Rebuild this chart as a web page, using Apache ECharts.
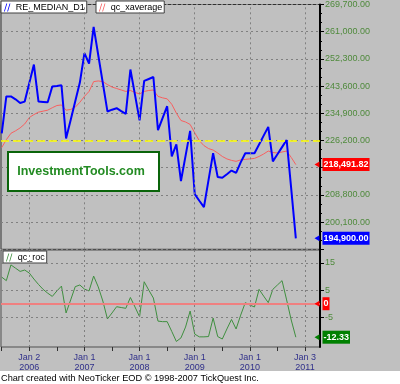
<!DOCTYPE html>
<html><head><meta charset="utf-8">
<script src="https://cdn.jsdelivr.net/npm/echarts@6/dist/echarts.min.js"></script>
<style>html,body{margin:0;padding:0;background:#c0c0c0}#c{width:400px;height:384px}</style>
</head><body><div id="c"></div>
<script>
// months relative to Jan 2006 (0 = Jan 2006); first point = Jul 2005
const startMonth = -6;
const reMedian = [228440,240310,240310,239370,238200,238640,244560,250480,238640,238550,238420,243460,243650,243870,226860,232750,238740,244720,254170,250800,262570,253540,244530,235490,236060,236530,235590,234740,248910,240780,232660,245250,245880,246510,229510,233380,237160,221100,224980,213230,221260,229290,209040,206930,204880,213540,222140,214490,214270,215430,216600,215840,219210,222140,222140,222140,224940,227750,230550,219530,221790,224090,226360,210710,194900];
const xAverage = [223940,226460,228500,229290,230230,231490,233540,234490,235270,235590,235900,236690,237380,237570,235900,236120,236850,238420,240310,241890,245030,245250,245030,244090,243300,242830,242360,241890,242200,241570,241100,241890,242200,242360,240310,239840,239520,237790,234960,232600,232120,231340,228660,226140,224570,223620,223150,222200,221100,220310,219840,219530,220000,220160,220310,220470,221100,221890,222830,222360,222200,222520,222830,220790,218491.82];
const roc = [9.8,8.5,14.3,13.1,11.9,12.4,11.3,9.1,7.1,5.3,3.9,2.7,4.7,6.5,-3.4,1.4,6.3,6.9,5.4,4.7,10.2,6.2,1.0,-5.6,-3.4,-1.1,-1.4,-1.7,2.3,-1.2,-4.8,8.1,5.0,2.1,-6.4,-6.6,-6.6,-10.2,-13.9,-12.6,-8.6,-2.7,-11.2,-12.2,-12.2,-12.1,-5.3,-12.1,-13.0,-9.3,-5.8,-9.3,-4.2,0.4,-0.5,-1.2,5.3,2.8,0.4,5.3,6.9,8.5,1.4,-6.0,-12.33];
const tickMonths = [0,12,24,36,48,60];
const tickLabels = ['Jan 2\n2006','Jan 1\n2007','Jan 1\n2008','Jan 1\n2009','Jan 1\n2010','Jan 3\n2011'];
const halfYearTicks = [-6,0,6,12,18,24,30,36,42,48,54,60];
const rocLabels = [-5,5,15];
const refLevel = 226200;
const priceMin = 191400, priceMax = 269700, priceStep = 8700;

const X_MIN = -6.16, X_MAX = 63.26;
const FONT = "'Liberation Sans', Arial, sans-serif";
const pairs = a => a.map((v, k) => [startMonth + k, v]);
function money(v) {
  const s = Number(v).toFixed(2).split('.');
  return s[0].replace(/\B(?=(\d{3})+(?!\d))/g, ',') + '.' + s[1];
}
function tag(x, y, text, color) {
  return {
    coord: [x, y], value: y, symbol: 'triangle', symbolSize: [6, 5], symbolRotate: 90, symbolOffset: [-3, 0],
    itemStyle: { color: color },
    label: { show: true, position: 'right', distance: 3, formatter: text, backgroundColor: color, color: '#fff',
      fontWeight: 'bold', fontSize: 9, fontFamily: FONT, padding: [2, 1, 1, 1], lineHeight: 10 }
  };
}
const gridDash = { type: [2, 3], color: '#808080', width: 1 };
const vLines = tickMonths.map(m => ({ xAxis: m, lineStyle: gridDash }));
const legendIcon = 'path://M0,10L3,0L4,0L1,10Z M4,10L7,0L8,0L5,10Z';
const legendBase = { orient: 'horizontal', padding: [2, 2, 1, 3], itemWidth: 7, itemHeight: 8, itemGap: 0,
  backgroundColor: '#fff', borderColor: '#404040', borderWidth: 1, selectedMode: false, icon: legendIcon,
  textStyle: { fontSize: 9, color: '#000', fontFamily: FONT } };
const last = a => a[a.length - 1];
const xEnd = X_MAX - 0.001;

const chart = echarts.init(document.getElementById('c'), null, { renderer: 'canvas' });
chart.setOption({
  animation: false,
  backgroundColor: '#c0c0c0',
  legend: [
    Object.assign({}, legendBase, { data: ['RE_MEDIAN_D1'], left: 1, top: 1 }),
    Object.assign({}, legendBase, { data: ['qc_xaverage'], left: 96, top: 1 }),
    Object.assign({}, legendBase, { data: ['qc_roc'], left: 3, top: 251 })
  ],
  grid: [
    { left: 1, top: 0.7, width: 319, height: 248.6, show: true, borderColor: '#303030', borderWidth: 1 },
    { left: 1, top: 250, width: 319, height: 97, show: true, borderColor: '#505050', borderWidth: 1 }
  ],
  xAxis: [
    { type: 'value', gridIndex: 0, min: X_MIN, max: X_MAX, axisLine: { show: false, onZero: false }, axisTick: { show: false },
      axisLabel: { show: false }, splitLine: { show: false } },
    { type: 'value', gridIndex: 1, min: X_MIN, max: X_MAX, position: 'bottom', axisLine: { show: false, onZero: false },
      axisTick: { show: true, customValues: halfYearTicks, length: 4, lineStyle: { color: '#303030' } },
      axisLabel: { customValues: tickMonths, color: '#30308a', fontSize: 9, lineHeight: 10, margin: 6, fontFamily: FONT,
        formatter: v => { const k = tickMonths.indexOf(Math.round(v)); return k >= 0 ? tickLabels[k] : ''; } },
      splitLine: { show: false } }
  ],
  yAxis: [
    { type: 'value', gridIndex: 0, position: 'right', min: priceMin, max: priceMax, interval: priceStep,
      axisLine: { show: true, onZero: false, lineStyle: { color: '#000', width: 2 } },
      axisTick: { show: true, length: 4, lineStyle: { color: '#000' } },
      minorTick: { show: true, splitNumber: 3, length: 2, lineStyle: { color: '#000' } },
      axisLabel: { showMinLabel: false, color: '#4f8a3c', fontSize: 9, margin: 5, fontFamily: FONT,
        formatter: v => Math.round(v) === 217500 ? '' : money(v) },
      splitLine: { show: true, lineStyle: gridDash } },
    { type: 'value', gridIndex: 1, position: 'right', min: -15.94, max: 19.79,
      axisLine: { show: true, onZero: false, lineStyle: { color: '#000', width: 2 } },
      axisTick: { show: true, customValues: rocLabels, length: 4, lineStyle: { color: '#000' } },
      axisLabel: { customValues: rocLabels, color: '#4f8a3c', fontSize: 9, margin: 5, fontFamily: FONT, formatter: v => String(v) },
      splitLine: { show: false } }
  ],
  series: [
    { name: 'gridTop', type: 'line', xAxisIndex: 0, yAxisIndex: 0, data: [], silent: true, z: 1,
      markLine: { silent: true, symbol: ['none', 'none'], label: { show: false },
        data: vLines.concat([{ yAxis: refLevel, lineStyle: { color: '#ffff00', type: [8, 4], width: 1.5 } }]) } },
    { name: 'gridBottom', type: 'line', xAxisIndex: 1, yAxisIndex: 1, data: [], silent: true, z: 1,
      markLine: { silent: true, symbol: ['none', 'none'], label: { show: false },
        data: vLines.concat(rocLabels.map(v => ({ yAxis: v, lineStyle: gridDash })),
          [{ yAxis: 0, lineStyle: { color: '#f08080', type: 'solid', width: 2 } }]) } },
    { name: 'qc_xaverage', type: 'line', xAxisIndex: 0, yAxisIndex: 0, data: pairs(xAverage), showSymbol: false,
      lineStyle: { color: '#f86060', width: 1 }, itemStyle: { color: '#f86060' }, z: 3,
      markPoint: { data: [tag(xEnd, last(xAverage), money(last(xAverage)), '#ff0000')] } },
    { name: 'RE_MEDIAN_D1', type: 'line', xAxisIndex: 0, yAxisIndex: 0, data: pairs(reMedian), showSymbol: false,
      lineStyle: { color: '#0000ff', width: 2 }, itemStyle: { color: '#0000ff' }, z: 4,
      markPoint: { data: [tag(xEnd, last(reMedian), money(last(reMedian)), '#0000ff')] } },
    { name: 'qc_roc', type: 'line', xAxisIndex: 1, yAxisIndex: 1, data: pairs(roc), showSymbol: false,
      lineStyle: { color: '#3f8f3f', width: 1 }, itemStyle: { color: '#3f8f3f' }, z: 4,
      markPoint: { data: [tag(xEnd, last(roc), String(last(roc)), '#008000'), tag(xEnd, 0, '0', '#ff0000')] } }
  ],
  graphic: [
    { type: 'rect', shape: { x: 0, y: 371, width: 400, height: 13 }, style: { fill: '#ffffff' }, silent: true },
    { type: 'text', x: 1, y: 378, style: { text: 'Chart created with NeoTicker EOD \u00a9 1998-2007 TickQuest Inc.',
      font: "9.2px " + FONT, fill: '#000', verticalAlign: 'middle' }, silent: true },
    { type: 'rect', shape: { x: 8, y: 152, width: 151, height: 39 }, style: { fill: '#ffffff', stroke: '#0a640a', lineWidth: 2 }, z: 10, silent: true },
    { type: 'text', x: 81, y: 172, style: { text: 'InvestmentTools.com', font: "bold 12.5px 'Liberation Sans', Arial, sans-serif",
      fill: '#238b23', align: 'center', verticalAlign: 'middle' }, z: 11, silent: true }
  ]
});
</script></body></html>
